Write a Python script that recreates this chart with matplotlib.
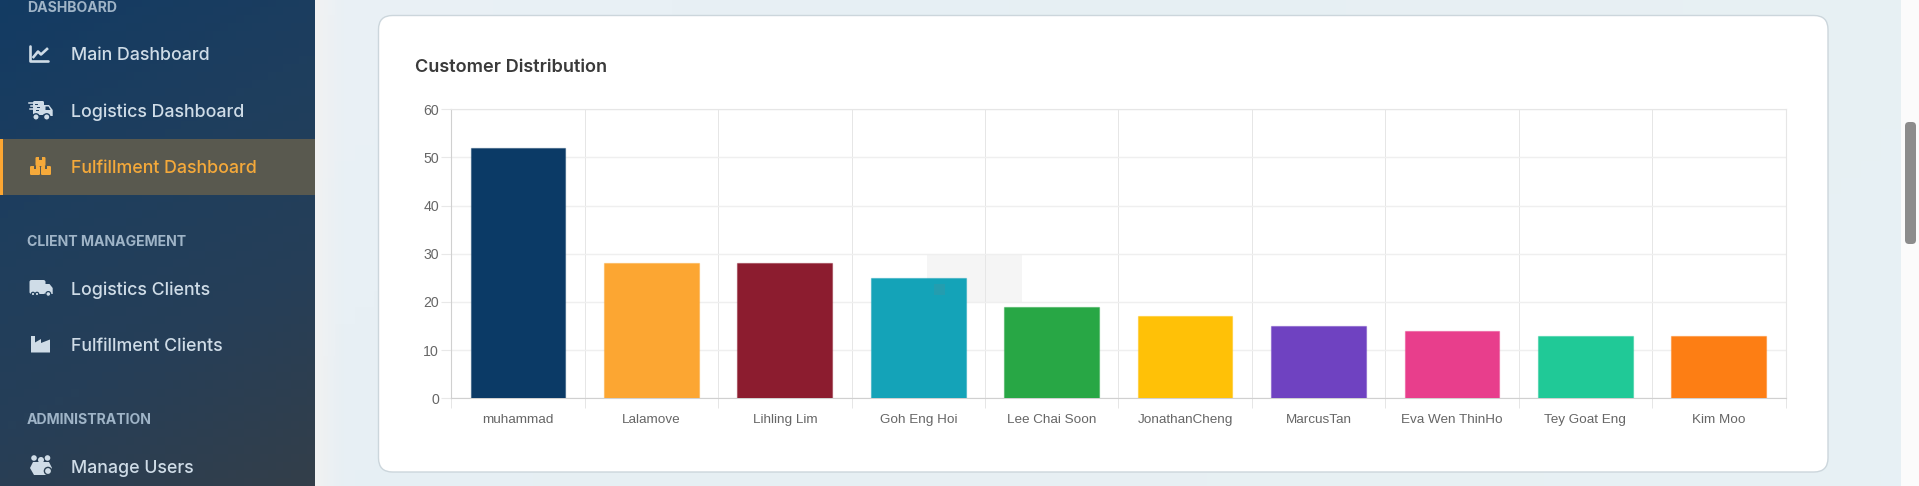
import numpy as np
import matplotlib
matplotlib.use('Agg')
import matplotlib.pyplot as plt
from matplotlib.colors import LinearSegmentedColormap, to_rgba
from matplotlib.patches import FancyBboxPatch, Rectangle, Circle, Polygon

W, H = 1919, 486

customers = ['muhammad', 'Lalamove', 'Lihling Lim', 'Goh Eng Hoi', 'Lee Chai Soon',
             'JonathanCheng', 'MarcusTan', 'Eva Wen ThinHo', 'Tey Goat Eng', 'Kim Moo']
counts = [52, 28, 28, 25, 19, 17, 15, 14, 13, 13]
bar_colors = ['#0b3a66', '#fca632', '#8c1c2f', '#14a3b8', '#28a745',
              '#ffc107', '#6f42c1', '#e83e8c', '#20c997', '#fd7e14']
y_ticks = [0, 10, 20, 30, 40, 50, 60]

section_labels = ['DASHBOARD', 'CLIENT MANAGEMENT', 'ADMINISTRATION']
section_y = [8, 242, 420]
menu_labels = ['Main Dashboard', 'Logistics Dashboard', 'Fulfillment Dashboard',
               'Logistics Clients', 'Fulfillment Clients', 'Manage Users']
menu_y = [56, 112, 168, 290, 346, 468]

fig = plt.figure(figsize=(W / 100, H / 100), dpi=100, facecolor='white')

# page in pixel coords
bg = fig.add_axes([0, 0, 1, 1])
bg.set_xlim(0, W)
bg.set_ylim(H, 0)
bg.axis('off')

# content background
xx, yy = np.meshgrid(np.linspace(0, 1, 80), np.linspace(0, 1, 30))
page = LinearSegmentedColormap.from_list('page', ['#eaf1f6', '#e6eff4', '#e8f0f3', '#e7f0f5'])
bg.imshow(xx + 0.3 * yy, extent=(315, 1901, H, 0), cmap=page, aspect='auto', zorder=0)
shade = np.zeros((1, 30, 4))
shade[0, :, :3] = 0.95
shade[0, :, 3] = np.linspace(0.9, 0, 30)
bg.imshow(shade, extent=(315, 345, H, 0), aspect='auto', zorder=1)

# sidebar
side = LinearSegmentedColormap.from_list('side', ['#133b63', '#1e3e5e', '#263f58', '#333e4a'])
xx, yy = np.meshgrid(np.linspace(0, 1, 40), np.linspace(0, 1, 60))
bg.imshow(0.25 * xx + 0.75 * yy, extent=(0, 315, H, 0), cmap=side, aspect='auto', zorder=1)
bg.add_patch(Rectangle((0, 139), 315, 56, fc='#59594f', ec='none', zorder=2))
bg.add_patch(Rectangle((0, 139), 3, 56, fc='#fca632', ec='none', zorder=3))

for lab, y in zip(section_labels, section_y):
    bg.text(27, y, lab, color='#9fb4c7', fontsize=10.15, fontweight='bold', family='Inter',
            va='center', ha='left', zorder=4)
for lab, y in zip(menu_labels, menu_y):
    col = '#f5a93a' if lab == 'Fulfillment Dashboard' else '#cfdce7'
    bg.text(71.3, y, lab, color=col, fontsize=12.8, family='Inter', fontweight='medium',
            va='center', ha='left', zorder=4)

# icons
ic = '#cfdce7'
bg.plot([30, 30, 48.3], [46.5, 61.5, 61.5], color=ic, lw=1.9, zorder=4, solid_capstyle='round')
bg.plot([33.5, 38, 41, 47], [57, 51.5, 54.5, 49], color=ic, lw=1.9, zorder=4)

bg.add_patch(FancyBboxPatch((33, 101), 11, 14, boxstyle='round,pad=0,rounding_size=1.5', fc=ic, ec='none', zorder=4))
bg.add_patch(Polygon([[44, 105], [49, 105], [52.7, 110], [52.7, 116], [44, 116]], fc=ic, ec='none', zorder=4))
bg.add_patch(Polygon([[45.5, 106.5], [48.5, 106.5], [50.5, 110], [45.5, 110]], fc='#1b3c5e', ec='none', zorder=5))
for x0, yy_ in ((29, 103), (30.5, 106), (29.5, 109)):
    bg.plot([x0, x0 + 6], [yy_, yy_], color=ic, lw=1.1, zorder=5)
    bg.plot([x0 + 6, x0 + 8], [yy_ + 1, yy_ + 1], color='#1b3c5e', lw=0.7, zorder=5)
bg.add_patch(Circle((36, 117), 3.2, fc=ic, ec='#1b3c5e', lw=1, zorder=5))
bg.add_patch(Circle((46.7, 117), 3.2, fc=ic, ec='#1b3c5e', lw=1, zorder=5))

box = '#f5a93a'
for bx, by in ((35.5, 157), (30, 166), (41, 166)):
    bg.add_patch(FancyBboxPatch((bx, by), 10, 9, boxstyle='round,pad=0,rounding_size=1.2',
                                fc=box, ec='none', zorder=4))
    bg.add_patch(Rectangle((bx + 3.8, by), 2.4, 3, fc='#59594f', ec='none', zorder=5))

bg.add_patch(FancyBboxPatch((29.5, 280), 16, 14, boxstyle='round,pad=0,rounding_size=2', fc=ic, ec='none', zorder=4))
bg.add_patch(Polygon([[45, 284], [49.5, 284], [52.7, 288], [52.7, 294], [45, 294]], fc=ic, ec='none', zorder=4))
for wx in (33, 37):
    bg.add_patch(Circle((wx, 294), 1.7, fc=ic, ec='#22405c', lw=0.9, zorder=5))
bg.add_patch(Circle((48.3, 294), 2.4, fc=ic, ec='#22405c', lw=0.9, zorder=5))

bg.add_patch(Polygon([[31, 336], [35, 336], [35, 342.5], [41, 339], [41, 343], [50, 339.5], [50, 352.5], [31, 352.5]],
                     fc=ic, ec='none', zorder=4))

for cx, cy, r in ((34, 458, 2.8), (47.5, 458, 2.8), (41, 460, 3)):
    bg.add_patch(Circle((cx, cy), r, fc=ic, ec='none', zorder=4))
bg.add_patch(Polygon([[30, 468], [33, 462], [49, 462], [52, 468], [47, 475], [34, 475]], fc=ic, ec='none', zorder=4))
bg.add_patch(Circle((48, 471), 3.6, fc='#cfdce7', ec='#2a3f52', lw=1, zorder=5))

# card
bg.add_patch(FancyBboxPatch((378.5, 15.5), 1449.5, 456.5,
                            boxstyle='round,pad=0,rounding_size=14',
                            fc='white', ec='#ccd6dc', lw=1, zorder=2))
bg.text(415, 67, 'Customer Distribution', color='#3a3a3a', fontsize=13.05, family='Inter',
        fontweight='semibold', va='center', ha='left', zorder=3)

# faint square behind the bars, it is in the screenshot
bg.add_patch(Rectangle((927, 254), 95, 48, fc='#000000', alpha=0.04, ec='none', zorder=3))

# scrollbar
bg.add_patch(Rectangle((1901, 0), 18, H, fc='#fbfbfb', ec='none', zorder=2))
bg.add_patch(FancyBboxPatch((1905, 122), 11, 122, boxstyle='round,pad=0,rounding_size=4',
                            fc='#8c8c8c', ec='none', zorder=3))

# chart
ax_l, ax_r, ax_t, ax_b = 451.3, 1785.5, 109.3, 398.3
ax = fig.add_axes([ax_l / W, 1 - ax_b / H, (ax_r - ax_l) / W, (ax_b - ax_t) / H])
ax.patch.set_alpha(0)
ax.set_axisbelow(True)

pos = np.arange(len(customers)) + 0.5
edges = [to_rgba(c, 0.45) for c in bar_colors]
ax.bar(pos, counts, width=0.71, color=bar_colors, edgecolor=edges, linewidth=0.9, zorder=3)

ax.set_xlim(0, len(customers))
ax.set_ylim(0, 60)
ax.set_yticks(y_ticks)
ax.set_xticks(pos)
ax.set_xticklabels(customers, family='Liberation Sans', fontsize=9.7, color='#666666')
ax.set_xticks(np.arange(len(customers) + 1), minor=True)
ax.tick_params(axis='x', which='major', length=0, pad=11)
ax.tick_params(axis='x', which='minor', length=7, width=0.7, color='#e6e6e6')
ax.tick_params(axis='y', length=7, width=0.8, color='#e8e8e8', pad=2, labelsize=10.2, labelcolor='#666666')
for t in ax.get_yticklabels():
    t.set_family('Liberation Sans')
ax.grid(True, axis='y', color='#efefef', lw=1.0)
ax.grid(True, axis='x', which='minor', color='#e6e6e6', lw=0.7)
for name, sp in ax.spines.items():
    sp.set_linewidth(0.8)
    sp.set_color('#d0d0d0' if name in ('left', 'bottom') else '#e6e6e6')

# small mark over the teal bar
over = fig.add_axes([0, 0, 1, 1])
over.set_xlim(0, W)
over.set_ylim(H, 0)
over.axis('off')
over.add_patch(Rectangle((934, 284), 11, 11, fc='#808080', alpha=0.15, ec='none'))

fig.savefig('out.png', dpi=100)
